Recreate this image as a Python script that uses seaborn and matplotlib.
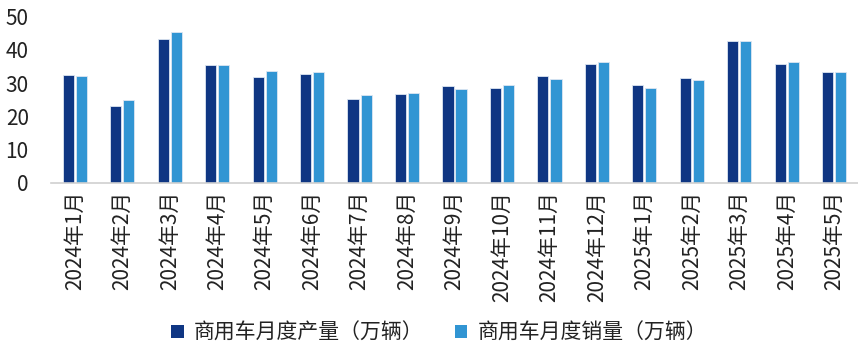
import matplotlib
matplotlib.use("Agg")
import matplotlib.pyplot as plt
import seaborn as sns
import pandas as pd
from matplotlib.patches import Patch

months = ["2024年1月", "2024年2月", "2024年3月", "2024年4月", "2024年5月", "2024年6月",
          "2024年7月", "2024年8月", "2024年9月", "2024年10月", "2024年11月", "2024年12月",
          "2025年1月", "2025年2月", "2025年3月", "2025年4月", "2025年5月"]
production = [32.3, 23.0, 43.3, 35.5, 31.7, 32.6, 25.3, 26.7, 29.0, 28.6, 32.2, 35.7,
              29.5, 31.4, 42.7, 35.8, 33.3]
sales = [32.0, 24.9, 45.4, 35.4, 33.7, 33.3, 26.5, 26.9, 28.1, 29.4, 31.1, 36.5,
         28.6, 30.9, 42.7, 36.3, 33.2]
series_names = ["商用车月度产量（万辆）", "商用车月度销量（万辆）"]
colors = ["#0F3683", "#3195D3"]

df = pd.DataFrame({
    "month": months * 2,
    "value": production + sales,
    "series": [series_names[0]] * len(months) + [series_names[1]] * len(months),
})

sns.set_style("white")
plt.rcParams["font.family"] = ["Noto Sans CJK SC", "DejaVu Sans"]

fig = plt.figure(figsize=(8.58, 3.48), dpi=100)
ax = fig.add_axes([0.0594, 0.475, 0.9406, 0.477])

sns.barplot(data=df, x="month", y="value", hue="series", palette=colors,
            saturation=1, width=0.55, gap=0.15, ax=ax, order=months,
            hue_order=series_names, edgecolor="#DDE6F2", linewidth=0.6, legend=False)

ax.set_ylim(0, 50)
ax.set_xlim(-0.5, len(months) - 0.5)
ax.set_yticks([0, 10, 20, 30, 40, 50])
ax.set_xlabel("")
ax.set_ylabel("")
for s in ["top", "right", "left"]:
    ax.spines[s].set_visible(False)
ax.spines["bottom"].set_color("#D0D0D0")
ax.spines["bottom"].set_linewidth(1.2)
ax.tick_params(axis="y", length=0, labelsize=15, labelcolor="#222222", pad=16)
ax.tick_params(axis="x", length=0, labelsize=15, labelcolor="#222222", pad=6)
plt.setp(ax.get_xticklabels(), rotation=90)

handles = [Patch(facecolor=c, edgecolor="none") for c in colors]
fig.legend(handles, series_names, loc="center", bbox_to_anchor=(0.512, 0.043), ncol=2,
           frameon=False, fontsize=15, handlelength=0.6, handleheight=0.6,
           handletextpad=0.5, columnspacing=1.5, labelcolor="#222222",
           borderpad=0)

fig.savefig("out.png", dpi=100)
